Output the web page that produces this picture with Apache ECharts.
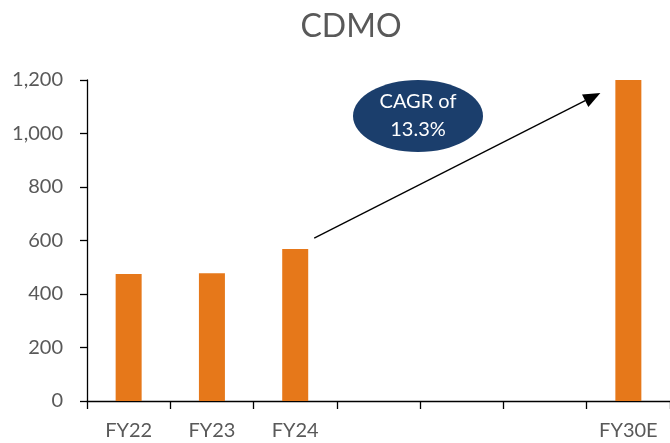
<!DOCTYPE html>
<html>
<head>
<meta charset="utf-8">
<script src="https://cdn.jsdelivr.net/npm/echarts@6/dist/echarts.min.js"></script>
<style>
  html, body { margin: 0; padding: 0; background: #fff; }
  #chart { width: 670px; height: 443px; }
</style>
</head>
<body>
<div id="chart"></div>
<script>
// Revenue by fiscal year (blank slots keep the FY25–FY29 gap on the axis)
const categories = ['FY22', 'FY23', 'FY24', '', '', '', 'FY30E'];
const revenue = [475, 478, 568, null, null, null, 1200];
const cagrText = ['CAGR of', '13.3%'];

const FONT = 'Lato, "Open Sans", sans-serif';
const TEXT_GREY = '#595959';
const BAR_ORANGE = '#E6781A';
const NAVY = '#1B3E6C';

const chart = echarts.init(document.getElementById('chart'), null, { renderer: 'canvas' });

chart.setOption({
  animation: false,
  backgroundColor: '#ffffff',
  title: {
    text: 'CDMO',
    left: 346,
    textAlign: 'center',
    top: 6,
    textStyle: { fontFamily: FONT, fontSize: 32, fontWeight: 'normal', color: TEXT_GREY }
  },
  grid: { left: 87, right: 0, top: 80, bottom: 42, containLabel: false },
  xAxis: {
    type: 'category',
    data: categories,
    boundaryGap: true,
    axisLine: { lineStyle: { color: '#000', width: 1.3 } },
    axisTick: { show: true, length: 8, alignWithLabel: false, interval: 0, lineStyle: { color: '#000', width: 1.3 } },
    axisLabel: { interval: 0, margin: 20, fontFamily: FONT, fontSize: 20, color: TEXT_GREY }
  },
  yAxis: {
    type: 'value',
    min: 0,
    max: 1200,
    interval: 200,
    splitLine: { show: false },
    axisLine: { show: true, lineStyle: { color: '#000', width: 1.3 } },
    axisTick: { show: true, length: 7, lineStyle: { color: '#000', width: 1.3 } },
    axisLabel: {
      margin: 24,
      fontFamily: FONT,
      fontSize: 20,
      color: TEXT_GREY,
      formatter: v => v.toLocaleString('en-US')
    }
  },
  series: [{
    type: 'bar',
    data: revenue,
    barWidth: 26,
    itemStyle: { color: BAR_ORANGE }
  }]
});

// CAGR annotation: arrow from the FY24 bar towards the FY30E bar, plus the oval callout
const from = chart.convertToPixel({ gridIndex: 0 }, [2, revenue[2]]);
const to = chart.convertToPixel({ gridIndex: 0 }, [6, revenue[6]]);
const x1 = from[0] + 19, y1 = from[1] - 11;
const x2 = to[0] - 28, y2 = to[1] + 13;
const ang = Math.atan2(y2 - y1, x2 - x1);
const headLen = 17, headHalf = 7;
const bx = x2 - headLen * Math.cos(ang), by = y2 - headLen * Math.sin(ang);
const px = -Math.sin(ang) * headHalf, py = Math.cos(ang) * headHalf;

chart.setOption({
  graphic: [
    {
      type: 'line',
      shape: { x1: x1, y1: y1, x2: bx, y2: by },
      style: { stroke: '#000', lineWidth: 1.3 }
    },
    {
      type: 'polygon',
      shape: { points: [[x2, y2], [bx + px, by + py], [bx - px, by - py]] },
      style: { fill: '#000' }
    },
    {
      type: 'ellipse',
      shape: { cx: 418, cy: 116, rx: 65, ry: 36 },
      style: { fill: NAVY }
    },
    {
      type: 'text',
      x: 418,
      y: 116,
      style: {
        text: cagrText.join('\n'),
        fill: '#ffffff',
        font: '20px ' + FONT,
        lineHeight: 28,
        align: 'center',
        verticalAlign: 'middle'
      }
    }
  ]
});
</script>
</body>
</html>
